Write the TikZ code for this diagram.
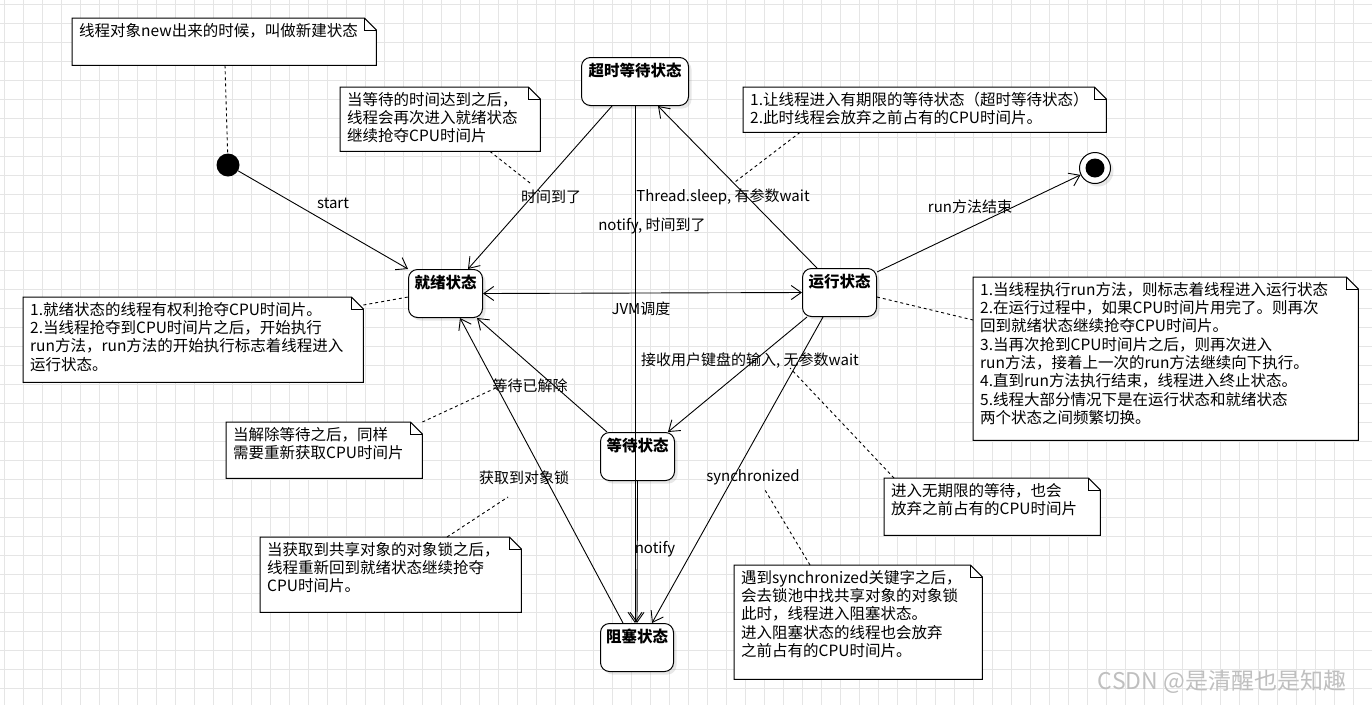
\documentclass[tikz,border=0pt]{standalone}
\usepackage{fontspec}
\setmainfont{Noto Sans CJK SC}
\usetikzlibrary{arrows.meta,shadows,calc}
\tikzset{
  gridline/.style={draw=black!10, line width=0.8pt},
  state/.style={draw, line width=1pt, rounded corners=9pt, fill=white,
    font=\fontsize{15.5}{18}\selectfont\bfseries, inner xsep=2pt, inner ysep=7pt,
    text height=12pt, text depth=22pt, anchor=north west,
    drop shadow={opacity=0.18,shadow xshift=3pt,shadow yshift=-3pt}},
  trans/.style={draw, line width=0.9pt, -{Straight Barb[length=10pt,width=14pt]}},
  lbl/.style={font=\fontsize{15}{18}\selectfont, inner sep=1pt},
  notetext/.style={font=\fontsize{15.5}{18.3}\selectfont, align=left, anchor=north west, inner sep=0pt},
  noteframe/.style={draw=none, inner sep=0pt, anchor=north west},
  noteline/.style={draw, line width=0.9pt, dash pattern=on 3pt off 3pt},
}
% name, left, top, right, bottom, text
\newcommand\mknote[6]{%
  \node[noteframe, minimum width={(#4-#2)*1pt}, minimum height={(#5-#3)*1pt}] (#1) at (#2,#3) {};
  \draw[line width=1pt, fill=white] (#1.north west) -- ([xshift=-12pt]#1.north east)
     -- ([yshift=-12pt]#1.north east) -- (#1.south east) -- (#1.south west) -- cycle;
  \draw[line width=1pt] ([xshift=-12pt]#1.north east) |- ([yshift=-12pt]#1.north east);
  \node[notetext] (#1t) at ([shift={(7pt,-5pt)}]#1.north west) {#6};
}
\begin{document}
\begin{tikzpicture}[x=1pt,y=-1pt]
\useasboundingbox (0,0) rectangle (1372,705);
\fill[white] (0,0) rectangle (1372,705);
\foreach \i in {0,...,72} \draw[gridline] ({\i*19+4},0) -- ({\i*19+4},705);
\foreach \j in {0,...,37} \draw[gridline] (0,{\j*19+4}) -- (1372,{\j*19+4});

% states
\node[circle, fill=black, minimum size=23pt, inner sep=0pt] (init) at (228,165) {};
\node[circle, draw, line width=1pt, fill=white, minimum size=31pt, inner sep=0pt,
  drop shadow={opacity=0.18,shadow xshift=3pt,shadow yshift=-3pt}] (final) at (1095,168) {};
\node[circle, fill=black, minimum size=19pt, inner sep=0pt] (finalin) at (final) {};
\node[state, minimum width=107pt, minimum height=47pt] (timed) at (581,57) {超时等待状态};
\node[state, minimum width=74pt, minimum height=47pt] (ready) at (408,269) {就绪状态};
\node[state, minimum width=74pt, minimum height=48pt] (run) at (802,268) {运行状态};
\node[state, minimum width=74pt, minimum height=46pt] (wait) at (600,432) {等待状态};
\node[state, minimum width=73pt, minimum height=47pt] (blocked) at (600,623) {阻塞状态};

% transitions
\draw[trans] (init) -- (ready.north west);
\draw[trans] ([xshift=31pt]timed.south west) -- ([xshift=60pt]ready.north west);
\draw[trans] ([xshift=15pt]run.north west) -- ([xshift=77pt]timed.south west);
\draw[trans] ([xshift=54pt]timed.south west) -- ([xshift=35pt]blocked.north west);
\draw[trans] (wait.south) -- (blocked.north);
\draw[draw, line width=0.9pt, {Straight Barb[length=10pt,width=14pt]}-{Straight Barb[length=10pt,width=14pt]}] (ready.east) -- (run.west);
\draw[trans] ([yshift=-4pt]run.north east) -- (final);
\draw[trans] ([xshift=5pt]run.south west) -- ([xshift=-7pt]wait.north east);
\draw[trans] ([xshift=7pt]wait.north west) -- ([xshift=69pt]ready.south west);
\draw[trans] ([xshift=23pt]blocked.north west) -- ([xshift=52pt]ready.south west);
\draw[trans] ([xshift=21pt]run.south west) -- ([xshift=52pt]blocked.north west);

% labels
\node[lbl] (lstart) at (333,203) {start};
\node[lbl] (l1) at (551,197) {时间到了};
\node[lbl] (l2) at (723,197) {Thread.sleep, 有参数wait};
\node[lbl] (l3) at (652,226) {notify, 时间到了};
\node[lbl] (l4) at (970,207) {run方法结束};
\node[lbl] (l5) at (641,309) {JVM调度};
\node[lbl] (l6) at (750,361) {接收用户键盘的输入, 无参数wait};
\node[lbl] (l7) at (530,386) {等待已解除};
\node[lbl] (l8) at (524,478) {获取到对象锁};
\node[lbl] (l9) at (753,477) {synchronized};
\node[lbl] (l10) at (655,549) {notify};

% notes
\mknote{n1}{72}{18}{376}{65}{线程对象new出来的时候，叫做新建状态}
\mknote{n2}{340}{87}{540}{151}{当等待的时间达到之后，\\线程会再次进入就绪状态\\继续抢夺CPU时间片}
\mknote{n3}{743}{87}{1106}{132}{1.让线程进入有期限的等待状态（超时等待状态）\\2.此时线程会放弃之前占有的CPU时间片。}
\mknote{n4}{23}{297}{363}{382}{1.就绪状态的线程有权利抢夺CPU时间片。\\2.当线程抢夺到CPU时间片之后，开始执行\\run方法，run方法的开始执行标志着线程进入\\运行状态。}
\mknote{n5}{973}{277}{1358}{440}{1.当线程执行run方法，则标志着线程进入运行状态\\2.在运行过程中，如果CPU时间片用完了。则再次\\回到就绪状态继续抢夺CPU时间片。\\3.当再次抢到CPU时间片之后，则再次进入\\run方法，接着上一次的run方法继续向下执行。\\4.直到run方法执行结束，线程进入终止状态。\\5.线程大部分情况下是在运行状态和就绪状态\\两个状态之间频繁切换。}
\mknote{n6}{226}{422}{422}{478}{当解除等待之后，同样\\需要重新获取CPU时间片}
\mknote{n7}{260}{537}{521}{612}{当获取到共享对象的对象锁之后，\\线程重新回到就绪状态继续抢夺\\CPU时间片。}
\mknote{n8}{884}{478}{1100}{535}{进入无期限的等待，也会\\放弃之前占有的CPU时间片}
\mknote{n9}{734}{565}{982}{679}{遇到synchronized关键字之后，\\会去锁池中找共享对象的对象锁\\此时，线程进入阻塞状态。\\进入阻塞状态的线程也会放弃\\之前占有的CPU时间片。}

% anchor points for note connectors
\coordinate (c2) at (530,183);
\coordinate (c3) at (735,182);
\coordinate (c6) at (500,386);
\coordinate (c7) at (508,497);
\coordinate (c8) at (790,368);
\coordinate (c9) at (765,490);

\draw[noteline] ([xshift=153pt]n1.south west) -- (init);
\draw[noteline] ([xshift=150pt]n2.south west) -- (c2);
\draw[noteline] ([xshift=57pt]n3.south west) -- (c3);
\draw[noteline] ([yshift=-8pt]n4.north east) -- ([yshift=-28pt]ready.north west);
\draw[noteline] ([yshift=-29pt]run.north east) -- ([yshift=-43pt]n5.north west);
\draw[noteline] (n6.north east) -- (c6);
\draw[noteline] ([xshift=187pt]n7.north west) -- (c7);
\draw[noteline] ([xshift=10pt]n8.north west) -- (c8);
\draw[noteline] ([xshift=76pt]n9.north west) -- (c9);

\node[font=\fontsize{23}{26}\selectfont, text=black!25] (wm) at (1222,682) {CSDN @是清醒也是知趣};
\end{tikzpicture}
\end{document}
